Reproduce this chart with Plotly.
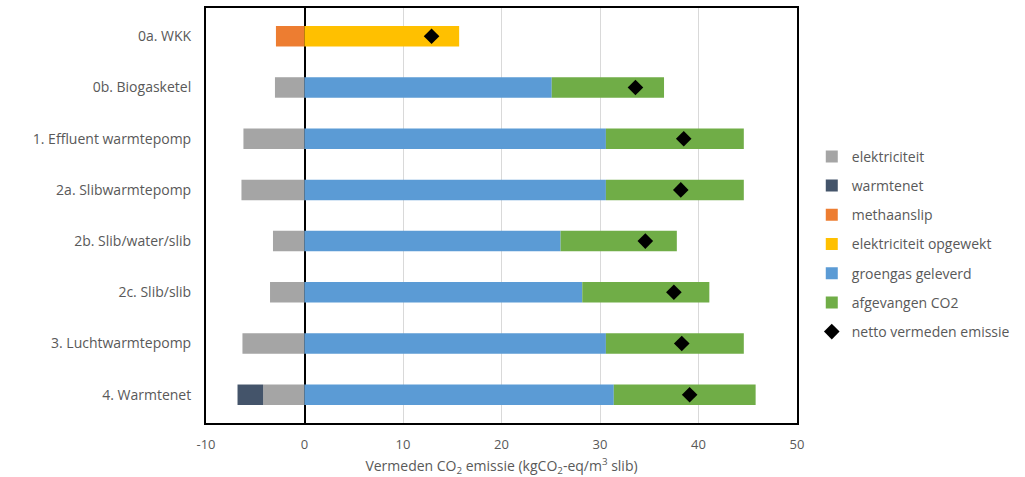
import plotly.graph_objects as go

# Scenarios (top to bottom)
categories = [
    "0a. WKK",
    "0b. Biogasketel",
    "1. Effluent warmtepomp",
    "2a. Slibwarmtepomp",
    "2b. Slib/water/slib",
    "2c. Slib/slib",
    "3. Luchtwarmtepomp",
    "4. Warmtenet",
]

# Contributions in kgCO2-eq/m3 slib
elektriciteit = [0, -3.0, -6.2, -6.4, -3.2, -3.5, -6.3, -4.2]
warmtenet = [0, 0, 0, 0, 0, 0, 0, -2.6]
methaanslip = [-2.9, 0, 0, 0, 0, 0, 0, 0]
elektriciteit_opgewekt = [15.7, 0, 0, 0, 0, 0, 0, 0]
groengas_geleverd = [0, 25.1, 30.6, 30.6, 26.0, 28.2, 30.6, 31.4]
afgevangen_co2 = [0, 11.4, 14.0, 14.0, 11.8, 12.9, 14.0, 14.4]
netto_vermeden = [12.9, 33.6, 38.5, 38.2, 34.6, 37.5, 38.3, 39.1]

# Horizontal axis ticks
x_ticks = [-10, 0, 10, 20, 30, 40, 50]
x_tick_labels = ["-10", "0", "10", "20", "30", "40", "50"]

bar_series = [
    ("elektriciteit", elektriciteit, "#a5a5a5"),
    ("warmtenet", warmtenet, "#44546a"),
    ("methaanslip", methaanslip, "#ed7d31"),
    ("elektriciteit opgewekt", elektriciteit_opgewekt, "#ffc000"),
    ("groengas geleverd", groengas_geleverd, "#5b9bd5"),
    ("afgevangen CO2", afgevangen_co2, "#70ad47"),
]

fig = go.Figure()
for i, (name, vals, color) in enumerate(bar_series):
    fig.add_trace(go.Bar(
        y=categories, x=vals, name=name, orientation="h",
        marker=dict(color=color, line=dict(width=0)),
        legendgroup=f"g{i}",
    ))

fig.add_trace(go.Scatter(
    y=categories, x=netto_vermeden, name="netto vermeden emissie",
    mode="markers",
    marker=dict(symbol="diamond", size=12, color="black"),
    legendgroup="g_net",
))

font_family = "Open Sans, Liberation Sans, sans-serif"

fig.update_layout(
    width=1025, height=477,
    barmode="relative",
    bargap=0.6,
    plot_bgcolor="white",
    paper_bgcolor="white",
    margin=dict(l=206, r=228, t=8, b=54),
    font=dict(family=font_family, size=13, color="#595959"),
    legend=dict(
        x=1.025, y=0.68, xanchor="left", yanchor="top",
        font=dict(size=14, color="#595959"),
        tracegroupgap=8,
        itemsizing="constant",
        bgcolor="rgba(0,0,0,0)",
    ),
    xaxis=dict(
        range=[-10, 50],
        tickvals=x_ticks,
        ticktext=x_tick_labels,
        automargin=False,
        showgrid=True, gridcolor="#d9d9d9", gridwidth=1,
        zeroline=True, zerolinecolor="black", zerolinewidth=2,
        showline=True, linecolor="black", linewidth=2, mirror=True,
        ticks="", ticklabelstandoff=8,
        tickfont=dict(size=13, color="#595959"),
        title=dict(
            text="Vermeden CO<sub>2</sub> emissie (kgCO<sub>2</sub>-eq/m<sup>3</sup> slib)",
            font=dict(size=14, color="#595959"),
            standoff=12,
        ),
    ),
    yaxis=dict(
        autorange="reversed",
        automargin=False,
        showline=True, linecolor="black", linewidth=2, mirror=True,
        showgrid=False,
        ticks="", ticklabelstandoff=10,
        tickfont=dict(size=14, color="#595959"),
    ),
)

fig.write_html("out.html")
